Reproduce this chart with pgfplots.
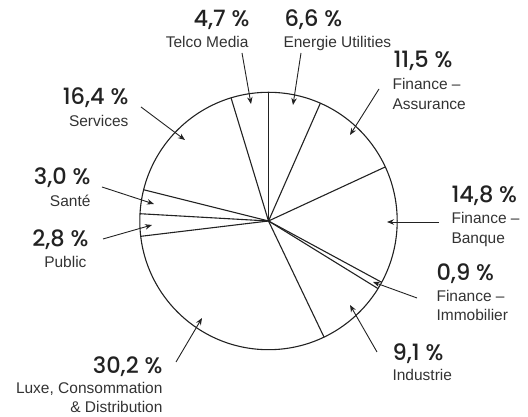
\documentclass[border=0pt]{standalone}
\usepackage{fontspec}
\setmainfont{Liberation Sans}
\newfontfamily\pctfont{Poppins Medium}
\usepackage{pgfplots}
\pgfplotsset{compat=1.18}
\usepackage{pgfplotstable}
\usetikzlibrary{arrows.meta}
\definecolor{txt}{HTML}{222222}
\definecolor{lab}{HTML}{333333}
\tikzset{
  labs/.style={text=lab,font=\fontsize{15.5}{20}\selectfont},
  arr/.style={draw=txt,line width=0.9pt,-{Stealth[length=7pt,width=5.5pt]}}}

\pgfplotstableread{
sector value
Energie 6.6
Assurance 11.5
Banque 14.8
Immobilier 0.9
Industrie 9.1
Luxe 30.2
Public 2.8
Sante 3.0
Services 16.4
Telco 4.7
}\piedata

\newcommand{\pct}[1]{{\pctfont\fontsize{22.5}{23}\selectfont #1}}

\begin{document}
\begin{tikzpicture}
\begin{axis}[width=528pt,height=417pt,scale only axis,
  xmin=0,xmax=528,ymin=0,ymax=417,axis lines=none,clip=false,
  every node/.append style={inner sep=0pt}]
\def\cx{268.5}\def\cy{196}\def\R{128.7}
\draw[line width=1.1pt,draw=txt] (axis cs:\cx,\cy) circle[radius=\R];
\def\cum{0}
\draw[line width=1.1pt,draw=txt] (axis cs:\cx,\cy) -- (axis cs:\cx,{\cy+\R});
\pgfplotsforeachungrouped \i in {0,...,8}{%
  \pgfplotstablegetelem{\i}{value}\of\piedata
  \pgfmathsetmacro\cum{\cum+\pgfplotsretval}%
  \pgfmathsetmacro\ang{90-3.6*\cum}%
  \pgfmathsetmacro\ex{\cx+\R*cos(\ang)}%
  \pgfmathsetmacro\ey{\cy+\R*sin(\ang)}%
  \edef\temp{\noexpand\draw[line width=1.1pt,draw=txt] (axis cs:\cx,\cy) -- (axis cs:\ex,\ey);}%
  \temp
}
% labels
\node[anchor=base east,text=txt] at (axis cs:253,390) {\pct{4,7 \%}};
\node[anchor=base east,labs] at (axis cs:252,369) {Telco Media};
\node[anchor=base west,text=txt] at (axis cs:281,390) {\pct{6,6 \%}};
\node[anchor=base west,labs] at (axis cs:280,369) {Energie Utilities};
\node[anchor=base west,text=txt] at (axis cs:390,349) {\pct{11,5 \%}};
\node[anchor=base west,labs] at (axis cs:389,327) {Finance –};
\node[anchor=base west,labs] at (axis cs:389,307) {Assurance};
\node[anchor=base east,text=txt] at (axis cs:132,312) {\pct{16,4 \%}};
\node[anchor=base east,labs] at (axis cs:132,290) {Services};
\node[anchor=base east,text=txt] at (axis cs:94,232) {\pct{3,0 \%}};
\node[anchor=base east,labs] at (axis cs:94,210) {Santé};
\node[anchor=base east,text=txt] at (axis cs:92,170) {\pct{2,8 \%}};
\node[anchor=base east,labs] at (axis cs:90,149) {Public};
\node[anchor=base west,text=txt] at (axis cs:448,214) {\pct{14,8 \%}};
\node[anchor=base west,labs] at (axis cs:448,193) {Finance –};
\node[anchor=base west,labs] at (axis cs:448,173) {Banque};
\node[anchor=base west,text=txt] at (axis cs:433,136) {\pct{0,9 \%}};
\node[anchor=base west,labs] at (axis cs:433,115) {Finance –};
\node[anchor=base west,labs] at (axis cs:433,96) {Immobilier};
\node[anchor=base west,text=txt] at (axis cs:389,56) {\pct{9,1 \%}};
\node[anchor=base west,labs] at (axis cs:389,36) {Industrie};
\node[anchor=base east,text=txt] at (axis cs:166,43) {\pct{30,2 \%}};
\node[anchor=base east,labs] at (axis cs:166,23) {Luxe, Consommation};
\node[anchor=base east,labs] at (axis cs:166,4) {\& Distribution};
% arrows
\draw[arr] (axis cs:141,310) -- (axis cs:185,277);
\draw[arr] (axis cs:242,364) -- (axis cs:251,313);
\draw[arr] (axis cs:301,364) -- (axis cs:293,312);
\draw[arr] (axis cs:379,328) -- (axis cs:350,282);
\draw[arr] (axis cs:439,195) -- (axis cs:387,195);
\draw[arr] (axis cs:417,119) -- (axis cs:373,135);
\draw[arr] (axis cs:377,65) -- (axis cs:350,112);
\draw[arr] (axis cs:176,55) -- (axis cs:202,99);
\draw[arr] (axis cs:103,178) -- (axis cs:152,192);
\draw[arr] (axis cs:102,230) -- (axis cs:154,213);
\end{axis}
\pgfresetboundingbox
\path (0,0) rectangle (528pt,417pt);
\end{tikzpicture}
\end{document}
